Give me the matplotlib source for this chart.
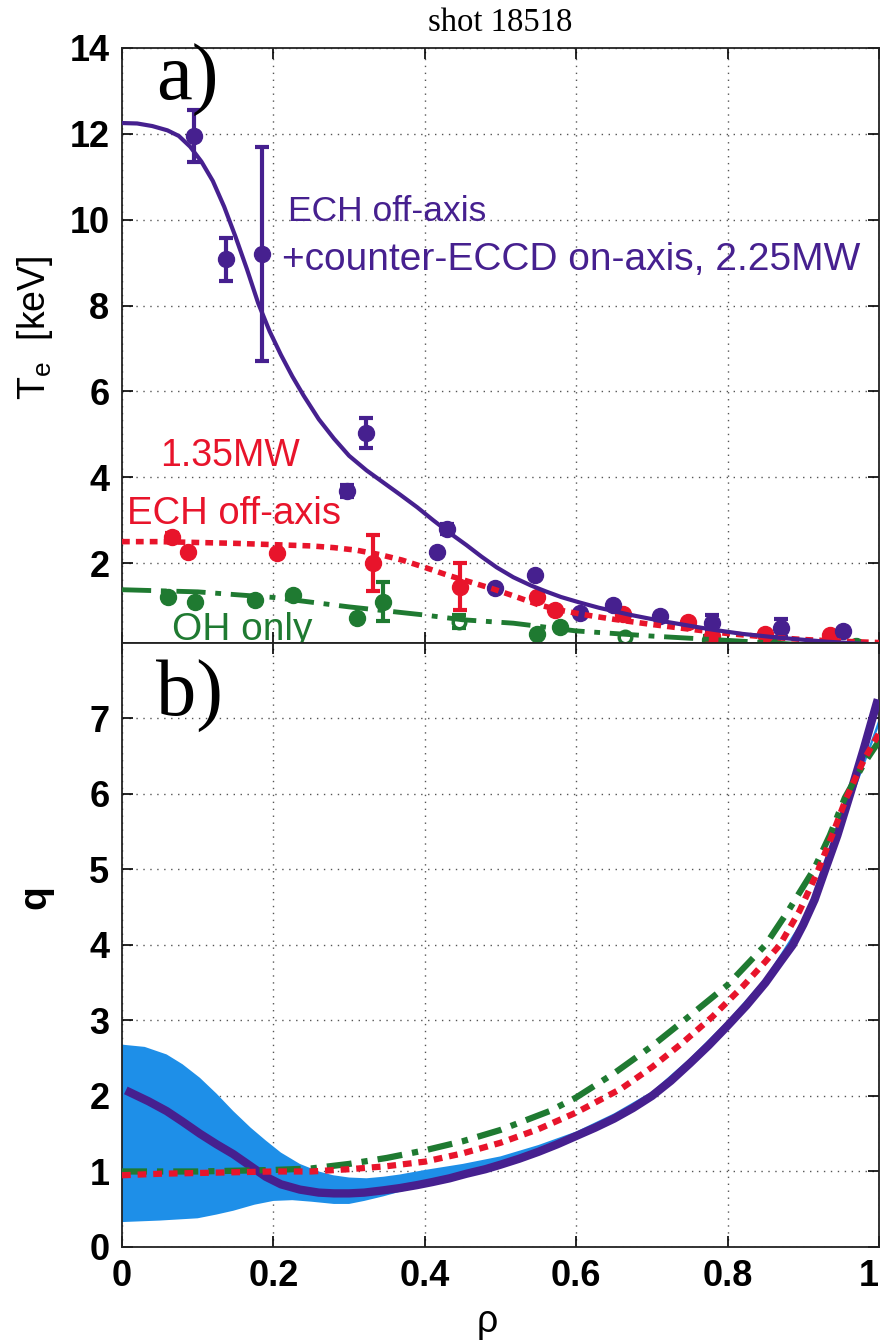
import matplotlib
matplotlib.use('Agg')
from matplotlib import pyplot as plt

# ---- panel a) electron temperature ----
# ECH off-axis + counter-ECCD on-axis, 2.25MW (purple)
rho_cc = [0.095, 0.137, 0.185, 0.297, 0.322, 0.416, 0.43, 0.493, 0.546, 0.605, 0.649, 0.711, 0.779, 0.871, 0.953]
te_cc = [11.95, 9.08, 9.2, 3.68, 5.02, 2.25, 2.8, 1.42, 1.72, 0.84, 1.02, 0.77, 0.6, 0.49, 0.42]
err_cc = [0.6, 0.5, 2.5, 0.15, 0.35, 0.0, 0.12, 0.0, 0.0, 0.0, 0.0, 0.0, 0.2, 0.2, 0.0]
rho_cc_fit = [0.0, 0.02, 0.04, 0.06, 0.075, 0.09, 0.105, 0.12, 0.135, 0.15, 0.165, 0.18, 0.195, 0.21,
              0.225, 0.24, 0.26, 0.28, 0.3, 0.323, 0.345, 0.367, 0.39, 0.411, 0.433, 0.455, 0.475,
              0.495, 0.517, 0.54, 0.56, 0.58, 0.605, 0.63, 0.65, 0.67, 0.693, 0.72, 0.75, 0.78,
              0.82, 0.869, 0.93, 1.0]
te_cc_fit = [12.25, 12.24, 12.18, 12.08, 11.95, 11.7, 11.35, 10.9, 10.3, 9.6, 8.85, 8.05, 7.4, 6.85,
             6.35, 5.9, 5.35, 4.9, 4.5, 4.16, 3.88, 3.6, 3.3, 3.0, 2.7, 2.42, 2.15,
             1.9, 1.67, 1.48, 1.34, 1.21, 1.08, 0.96, 0.88, 0.8, 0.72, 0.63, 0.54, 0.45,
             0.35, 0.26, 0.17, 0.1]

# ECH off-axis 1.35MW (red)
rho_ech = [0.066, 0.087, 0.205, 0.331, 0.446, 0.548, 0.572, 0.662, 0.748, 0.78, 0.849, 0.935]
te_ech = [2.6, 2.27, 2.23, 2.0, 1.45, 1.22, 0.9, 0.82, 0.63, 0.3, 0.36, 0.32]
err_ech = [0.1, 0.0, 0.0, 0.65, 0.55, 0.0, 0.0, 0.0, 0.0, 0.1, 0.0, 0.0]
rho_ech_fit = [0.0, 0.05, 0.1, 0.15, 0.2, 0.25, 0.28, 0.31, 0.34, 0.37, 0.4, 0.43, 0.46, 0.49, 0.52,
               0.55, 0.58, 0.61, 0.65, 0.7, 0.75, 0.8, 0.85, 0.9, 0.95, 1.0]
te_ech_fit = [2.5, 2.5, 2.48, 2.46, 2.43, 2.4, 2.36, 2.3, 2.2, 2.07, 1.9, 1.72, 1.56, 1.4, 1.22,
              1.03, 0.9, 0.8, 0.69, 0.57, 0.46, 0.36, 0.28, 0.22, 0.18, 0.15]

# OH only (green)
rho_oh = [0.061, 0.096, 0.176, 0.226, 0.31, 0.345, 0.445, 0.548, 0.579, 0.665, 0.777, 0.86, 0.97]
te_oh = [1.2, 1.1, 1.14, 1.26, 0.72, 1.1, 0.63, 0.35, 0.5, 0.28, 0.2, 0.12, 0.08]
err_oh = [0.0, 0.0, 0.0, 0.0, 0.0, 0.45, 0.15, 0.0, 0.0, 0.0, 0.1, 0.0, 0.0]
open_oh = [False, False, False, False, False, False, True, False, False, True, False, False, False]
rho_oh_fit = [0.0, 0.1, 0.2, 0.3, 0.4, 0.45, 0.517, 0.6, 0.7, 0.8, 0.9, 1.0]
te_oh_fit = [1.38, 1.33, 1.2, 0.98, 0.79, 0.68, 0.6, 0.42, 0.3, 0.2, 0.1, 0.05]

# ---- panel b) safety factor ----
rho_q_cc = [0.01, 0.035, 0.059, 0.08, 0.103, 0.125, 0.147, 0.17, 0.19, 0.21, 0.235, 0.26, 0.28, 0.3,
            0.32, 0.345, 0.367, 0.39, 0.41, 0.433, 0.455, 0.48, 0.5, 0.525, 0.55, 0.575, 0.6, 0.625,
            0.65, 0.675, 0.7, 0.725, 0.75, 0.775, 0.8, 0.825, 0.85, 0.87, 0.886, 0.9, 0.915, 0.929,
            0.945, 0.962, 0.98, 0.997]
q_cc = [2.05, 1.93, 1.8, 1.66, 1.5, 1.36, 1.23, 1.07, 0.93, 0.83, 0.76, 0.72, 0.71, 0.71,
        0.72, 0.75, 0.78, 0.82, 0.86, 0.91, 0.97, 1.03, 1.09, 1.17, 1.26, 1.36, 1.47, 1.58,
        1.7, 1.84, 2.0, 2.2, 2.43, 2.67, 2.93, 3.2, 3.5, 3.78, 4.0, 4.27, 4.6, 5.0,
        5.45, 6.0, 6.6, 7.2]
rho_q_ech = [0.0, 0.05, 0.1, 0.15, 0.2, 0.25, 0.3, 0.35, 0.4, 0.45, 0.5, 0.55, 0.6, 0.632, 0.66,
             0.7, 0.74, 0.78, 0.82, 0.85, 0.869, 0.895, 0.918, 0.94, 0.957, 0.98, 1.0]
q_ech = [0.95, 0.97, 0.98, 0.99, 1.0, 1.0, 1.03, 1.07, 1.13, 1.24, 1.38, 1.56, 1.78, 1.95, 2.1,
         2.38, 2.7, 3.05, 3.45, 3.78, 4.0, 4.45, 4.95, 5.5, 5.95, 6.45, 6.8]
rho_q_oh = [0.0, 0.1, 0.2, 0.25, 0.3, 0.35, 0.4, 0.45, 0.5, 0.565, 0.6, 0.65, 0.7, 0.74, 0.8,
            0.85, 0.88, 0.914, 0.935, 0.955, 0.98, 1.0]
q_oh = [1.0, 1.0, 1.02, 1.04, 1.1, 1.18, 1.28, 1.4, 1.55, 1.8, 1.98, 2.3, 2.66, 2.98, 3.47,
        4.0, 4.45, 5.0, 5.45, 5.95, 6.4, 6.7]
# uncertainty band of the ECCD case
rho_band_hi = [0.0, 0.03, 0.059, 0.08, 0.103, 0.125, 0.147, 0.17, 0.19, 0.21, 0.235, 0.26, 0.279, 0.3,
               0.323, 0.345, 0.367, 0.4, 0.45, 0.5, 0.55, 0.6, 0.65, 0.7, 0.75, 0.8, 0.85, 0.9, 0.95, 1.0]
q_band_hi = [2.68, 2.65, 2.55, 2.42, 2.24, 2.03, 1.8, 1.58, 1.41, 1.25, 1.1, 1.0, 0.95, 0.92,
             0.91, 0.93, 0.96, 1.02, 1.1, 1.2, 1.35, 1.53, 1.77, 2.06, 2.5, 3.0, 3.57, 4.35, 5.6, 7.0]
rho_band_lo = [0.0, 0.05, 0.1, 0.125, 0.147, 0.175, 0.2, 0.225, 0.25, 0.28, 0.3, 0.32, 0.345, 0.367,
               0.4, 0.43, 0.455, 0.5, 0.6, 0.7, 0.8, 0.9, 1.0]
q_band_lo = [0.33, 0.35, 0.38, 0.43, 0.48, 0.56, 0.61, 0.62, 0.6, 0.57, 0.57, 0.61, 0.67, 0.73,
             0.8, 0.88, 0.95, 1.06, 1.45, 1.98, 2.9, 4.2, 6.9]

PURPLE = '#46208f'
RED = '#e8142b'
GREEN = '#1f7a31'
BLUE = '#1e8fe8'

plt.rcParams['font.family'] = ['Liberation Sans', 'DejaVu Sans']
plt.rcParams['mathtext.default'] = 'regular'

fig = plt.figure(figsize=(8.84, 13.42), dpi=100)
ax1 = fig.add_axes([0.138, 0.5209, 0.8563, 0.4434])
ax2 = fig.add_axes([0.138, 0.0708, 0.8563, 0.4501])


def style_axes(ax):
    ax.grid(True, linestyle=(0, (1, 4)), color='#555555', linewidth=1.0)
    ax.tick_params(direction='in', length=8, width=1.2, top=True, right=True,
                   labelsize=26, pad=9)
    for lab in ax.get_xticklabels() + ax.get_yticklabels():
        lab.set_fontweight('bold')
    for sp in ax.spines.values():
        sp.set_linewidth(1.3)
        sp.set_color('#222222')
    ax.set_xlim(0, 1)


def draw_points(ax, x, y, err, color, hollow=None):
    ax.errorbar(x, y, yerr=err, fmt='none', ecolor=color, elinewidth=3,
                capsize=5, capthick=3, zorder=3)
    if hollow is None:
        hollow = [False] * len(x)
    xs = [a for a, h in zip(x, hollow) if not h]
    ys = [b for b, h in zip(y, hollow) if not h]
    ax.plot(xs, ys, 'o', color=color, markersize=11.5, zorder=4)
    xh = [a for a, h in zip(x, hollow) if h]
    yh = [b for b, h in zip(y, hollow) if h]
    ax.plot(xh, yh, 'o', markerfacecolor='white', markeredgecolor=color,
            markeredgewidth=2.5, markersize=9, zorder=4)


# panel a
draw_points(ax1, rho_oh, te_oh, err_oh, GREEN, open_oh)
draw_points(ax1, rho_ech, te_ech, err_ech, RED)
draw_points(ax1, rho_cc, te_cc, err_cc, PURPLE)
ax1.plot(rho_oh_fit, te_oh_fit, color=GREEN, linewidth=3.5, dashes=(6, 2, 1.2, 2), zorder=5)
ax1.plot(rho_ech_fit, te_ech_fit, color=RED, linewidth=4, dashes=(1.4, 1.1), zorder=5)
ax1.plot(rho_cc_fit, te_cc_fit, color=PURPLE, linewidth=3, zorder=6)

ax1.set_ylim(0.14, 14)
ax1.set_yticks([2, 4, 6, 8, 10, 12, 14])
ax1.set_xticks([0, 0.2, 0.4, 0.6, 0.8, 1.0])
style_axes(ax1)
ax1.tick_params(labelbottom=False)
ax1.set_ylabel('T$_e$  [keV]', fontsize=27)
ax1.yaxis.set_label_coords(-0.089, 0.53)
ax1.set_title('shot 18518', family='Liberation Serif', fontsize=23.5, pad=12)

ax1.text(0.045, 0.913, 'a)', transform=ax1.transAxes, family='Liberation Serif',
         fontsize=58, va='baseline', zorder=7)
ax1.text(0.219, 10.2, 'ECH off-axis', color=PURPLE, fontsize=25.5, va='center')
ax1.text(0.211, 9.05, '+counter-ECCD on-axis, 2.25MW', color=PURPLE, fontsize=28, va='center')
ax1.text(0.05, 4.5, '1.35MW', color=RED, fontsize=27, va='center')
ax1.text(0.007, 3.14, 'ECH off-axis', color=RED, fontsize=27.5, va='center')
ax1.text(0.066, 0.44, 'OH only', color=GREEN, fontsize=28, va='center', clip_on=True)

# panel b
ax2.fill(rho_band_hi + rho_band_lo[::-1], q_band_hi + q_band_lo[::-1],
         color=BLUE, linewidth=0, zorder=2)
ax2.plot(rho_q_cc, q_cc, color=PURPLE, linewidth=6, zorder=3)
ax2.plot(rho_q_oh, q_oh, color=GREEN, linewidth=4.5, dashes=(4, 1.6, 1, 1.6), zorder=4)
ax2.plot(rho_q_ech, q_ech, color=RED, linewidth=4.5, dashes=(1.4, 1.1), zorder=5)

ax2.set_ylim(0, 8)
ax2.set_yticks(range(8))
ax2.set_xticks([0, 0.2, 0.4, 0.6, 0.8, 1.0])
ax2.set_xticklabels(['0', '0.2', '0.4', '0.6', '0.8', '1'])
style_axes(ax2)
ax2.get_xticklabels()[-1].set_horizontalalignment('right')
ax2.set_ylabel('q', fontsize=28, fontweight='bold')
ax2.yaxis.set_label_coords(-0.09, 0.58)
ax2.set_xlabel('ρ', fontsize=27)
ax2.xaxis.set_label_coords(0.482, -0.094)
ax2.text(0.045, 0.88, 'b)', transform=ax2.transAxes, family='Liberation Serif',
         fontsize=58, va='baseline', zorder=7)

fig.savefig('out.png', dpi=100)
